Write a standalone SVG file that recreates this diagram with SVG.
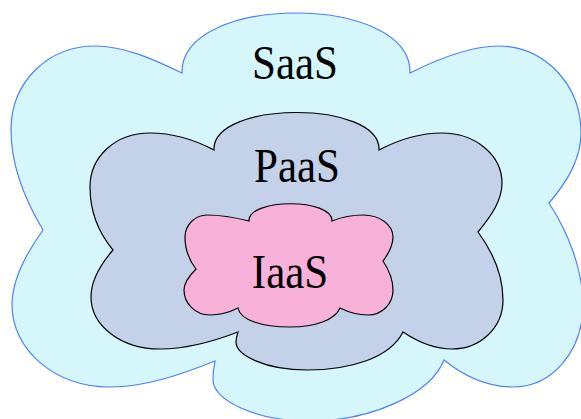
<svg xmlns="http://www.w3.org/2000/svg" width="581" height="419" viewBox="0 0 581 419">
<style>
.saas{fill:#d5f7fc;stroke:#4f7fff;stroke-width:1.2}
.paas{fill:#c3d2e9;stroke:#000;stroke-width:1.2}
.iaas{fill:#f8b1d8;stroke:#000;stroke-width:1.2}
.lbl{font-family:"Liberation Serif","Times New Roman",serif;font-size:43px;fill:#000;text-anchor:middle}
</style>
<rect width="581" height="419" fill="#fff"/>
<g id="saas">
<path class="saas" d="M182,73 C180,-7 412,-7 410,73 C440,58 470,46 498,46 C545,46 581,85 581,133 C581,160 566,183 549,203 C568,232 583,270 583,305 C583,350 553,387 513,387 C488,387 465,377 444,360 C430,395 370,421 310,421 C255,421 213,400 213,380 C213,372 214,366 215,361 C180,375 145,387 110,387 C55,387 12,350 12,305 C12,280 25,255 43,230 C25,200 11,165 11,130 C11,80 50,46 95,46 C125,46 155,60 182,73 Z"/>
<text class="lbl" transform="translate(295,79) scale(1,1.13)">SaaS</text>
</g>
<g id="paas">
<path class="paas" d="M214,150 C212,100 381,100 379,150 C398,140 420,133 442,133 C475,133 502,155 502,183 C502,200 492,215 478,232 C495,255 503,278 503,300 C503,328 480,349 452,349 C435,349 418,342 403,332 C390,358 350,370 307,370 C265,370 236,355 236,342 C236,338 237,335 238,332 C212,342 186,349 160,349 C120,349 91,325 91,297 C91,280 100,265 113,250 C98,232 90,210 90,187 C90,157 115,133 150,133 C172,133 195,140 214,150 Z"/>
<text class="lbl" transform="translate(297,182) scale(1,1.13)">PaaS</text>
</g>
<g id="iaas">
<path class="iaas" d="M249,221 C248,198 333,198 332,221 C342,217 352,215 363,215 C380,215 393,225 393,237 C393,246 389,253 383,261 C389,270 393,280 393,290 C393,304 382,315 368,315 C358,315 348,312 340,308 C335,320 315,327 290,327 C262,327 240,320 238,308 C230,312 220,315 210,315 C195,315 184,303 184,290 C184,283 189,276 196,269 C189,260 185,248 185,237 C185,225 195,215 207,215 C222,215 237,218 249,221 Z"/>
<text class="lbl" transform="translate(290,288) scale(1,1.13)">IaaS</text>
</g>
<g id="connectors"/>
</svg>
